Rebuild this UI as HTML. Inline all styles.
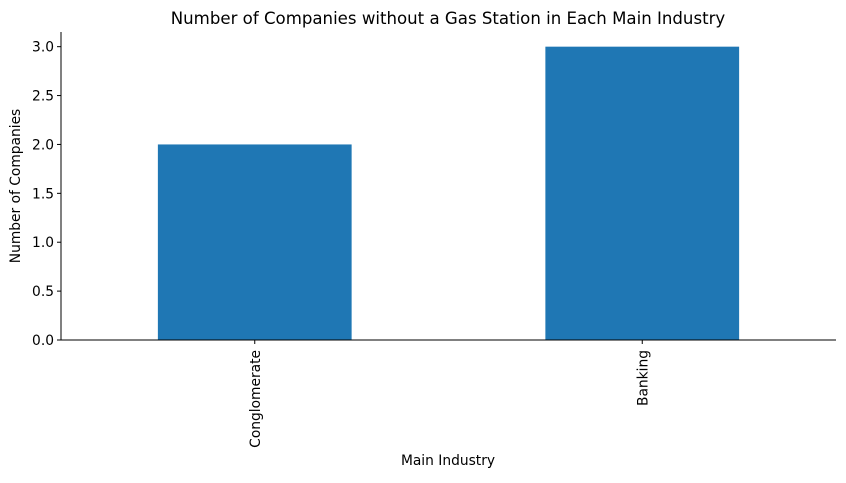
<!DOCTYPE html>
<html><head><meta charset="utf-8"><style>
body{margin:0;background:#fff;}
svg{font-family:"DejaVu Sans","Liberation Sans",sans-serif;}
</style></head><body>
<svg id="chart" width="846" height="478">
<text x="448" y="24" text-anchor="middle" font-size="16.6" fill="#000">Number of Companies without a Gas Station in Each Main Industry</text>
<g id="plot"></g>
<text x="448" y="465" text-anchor="middle" font-size="13.8" fill="#000">Main Industry</text>
<text transform="translate(20,186) rotate(-90)" text-anchor="middle" font-size="13.8" fill="#000">Number of Companies</text>
</svg>
<script>
const categories=["Conglomerate","Banking"];
const values=[2,3];
const yTicks=[0,0.5,1.0,1.5,2.0,2.5,3.0];
const yTickLabels=["0.0","0.5","1.0","1.5","2.0","2.5","3.0"];
const L=61,R=836,T=32,B=340,yMax=3.15;
const ns="http://www.w3.org/2000/svg";
const g=document.getElementById('plot');
function y(v){return B-(v/yMax)*(B-T);}
function x(i){return L+(i+0.5)/categories.length*(R-L);}
const step=(R-L)/categories.length,bw=step*0.5;
function mk(t,a){const e=document.createElementNS(ns,t);for(const k in a)e.setAttribute(k,a[k]);g.appendChild(e);return e;}
values.forEach((v,i)=>{
 const r=mk('rect',{x:x(i)-bw/2,y:y(v),width:bw,height:B-y(v),fill:'#1f77b4'});
 
 
 const tk=mk('line',{x1:x(i),x2:x(i),y1:B,y2:B+4,stroke:'#000'});
 
 
 const t=mk('text',{transform:`translate(${x(i)+5},${B+10}) rotate(-90)`,'text-anchor':'end','font-size':'13.8',fill:'#000'});
 t.textContent=categories[i];
 
 
});
yTicks.forEach((v,i)=>{
 const tk=mk('line',{x1:L-4,x2:L,y1:y(v),y2:y(v),stroke:'#000'});
 
 
 const t=mk('text',{x:L-7,y:y(v)+5,'text-anchor':'end','font-size':'13.8',fill:'#000'});
 t.textContent=yTickLabels[i];
 
 
});
const ya=mk('line',{x1:L,x2:L,y1:T,y2:B,stroke:'#000'});


const xa=mk('line',{x1:L,x2:R,y1:B,y2:B,stroke:'#000'});


</script>
</body></html>
